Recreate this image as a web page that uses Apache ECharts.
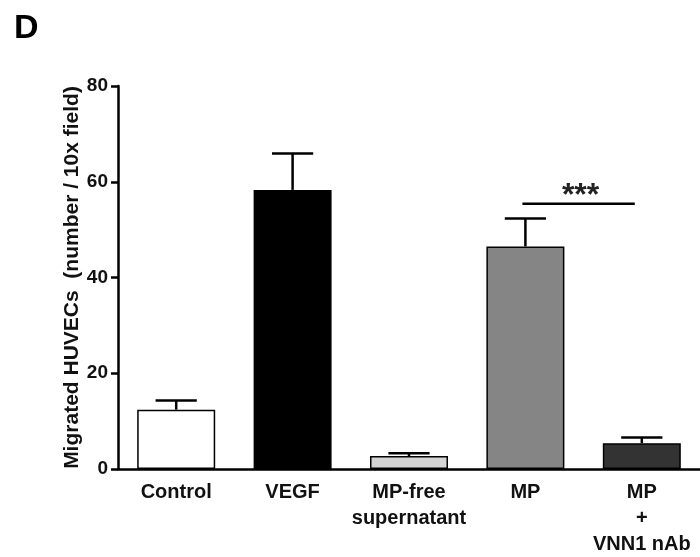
<!DOCTYPE html>
<html>
<head>
<meta charset="utf-8">
<script src="https://cdn.jsdelivr.net/npm/echarts@6/dist/echarts.min.js"></script>
<style>
  html, body { margin: 0; padding: 0; background: #fff; }
  #chart { width: 700px; height: 557px; }
</style>
</head>
<body>
<div id="chart"></div>
<script>
// data
var categories = ['Control', 'VEGF', 'MP-free\nsupernatant', 'MP', 'MP\n+\nVNN1 nAb'];
var means = [12.4, 58.3, 2.7, 46.5, 5.4];
var errors = [1.9, 7.6, 0.6, 5.8, 1.2];
var barColors = ['#ffffff', '#000000', '#d4d4d4', '#858585', '#333333'];
var yTicks = [0, 20, 40, 60, 80];
// significance bracket: from category, to category, level, label
var sigFrom = 3, sigTo = 4, sigLevel = 55.4, sigText = '***';

var font = 'Liberation Sans, Arial, sans-serif';
var chart = echarts.init(document.getElementById('chart'));

var barData = means.map(function (v, i) {
    return { value: v, itemStyle: { color: barColors[i] } };
});
var errData = means.map(function (v, i) { return [i, v, v + errors[i]]; });

chart.setOption({
    animation: false,
    backgroundColor: '#fff',
    grid: { left: 118, right: 0, top: 86, bottom: 84 },
    graphic: [{
        type: 'text', left: 14, top: 12,
        style: { text: 'D', font: 'bold 34px ' + font, fill: '#000' }
    }],
    xAxis: {
        type: 'category',
        data: categories,
        axisLine: { lineStyle: { color: '#000', width: 2.5 } },
        axisTick: { alignWithLabel: true, length: 8, lineStyle: { color: '#000', width: 2.5 } },
        axisLabel: {
            color: '#111', fontFamily: font, fontWeight: 'bold', fontSize: 20,
            lineHeight: 26, margin: 10, interval: 0
        }
    },
    yAxis: {
        type: 'value',
        min: 0, max: yTicks[yTicks.length - 1], interval: yTicks[1] - yTicks[0],
        name: 'Migrated HUVECs  (number / 10x field)',
        nameLocation: 'middle', nameGap: 35, nameMoveOverlap: false,
        nameTextStyle: { color: '#111', fontFamily: font, fontWeight: 'bold', fontSize: 21 },
        splitLine: { show: false },
        axisLine: { show: true, lineStyle: { color: '#000', width: 2.5 } },
        axisTick: { show: true, length: 7, lineStyle: { color: '#000', width: 2.5 } },
        axisLabel: { color: '#111', fontFamily: font, fontWeight: 'bold', fontSize: 19, margin: 10 }
    },
    series: [
        {
            type: 'bar',
            data: barData,
            barWidth: '67%',
            itemStyle: { borderColor: '#000', borderWidth: 1.5 }
        },
        {
            type: 'custom',
            data: errData,
            z: 5,
            renderItem: function (params, api) {
                var x = api.value(0);
                var lo = api.coord([x, api.value(1)]);
                var hi = api.coord([x, api.value(2)]);
                var half = api.size([1, 0])[0] * 0.177;
                var st = { stroke: '#000', lineWidth: 2.5 };
                return {
                    type: 'group',
                    children: [
                        { type: 'line', shape: { x1: lo[0], y1: lo[1], x2: hi[0], y2: hi[1] }, style: st },
                        { type: 'line', shape: { x1: hi[0] - half, y1: hi[1], x2: hi[0] + half, y2: hi[1] }, style: st }
                    ]
                };
            }
        },
        {
            type: 'custom',
            data: [[sigFrom, sigTo, sigLevel]],
            z: 5,
            renderItem: function (params, api) {
                var a = api.coord([api.value(0), api.value(2)]);
                var b = api.coord([api.value(1), api.value(2)]);
                return {
                    type: 'group',
                    children: [
                        { type: 'line', shape: { x1: a[0] - 3, y1: a[1], x2: b[0] - 7, y2: b[1] },
                          style: { stroke: '#000', lineWidth: 2.5 } },
                        { type: 'text', x: (a[0] + b[0]) / 2 - 3, y: a[1] + 8,
                          style: { text: sigText, font: 'bold 32px ' + font, fill: '#222',
                                   textAlign: 'center', textVerticalAlign: 'bottom' } }
                    ]
                };
            }
        }
    ]
});
</script>
</body>
</html>
